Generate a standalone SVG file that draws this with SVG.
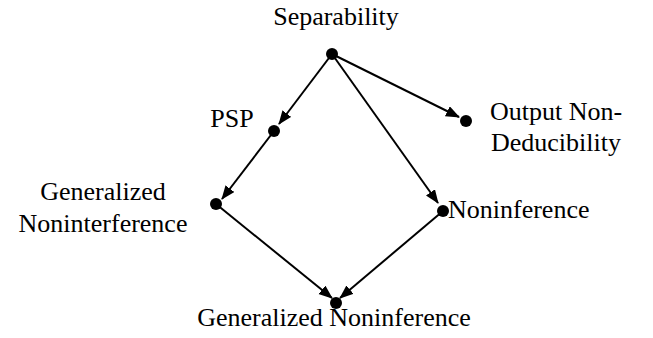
<svg xmlns="http://www.w3.org/2000/svg" width="653" height="338" viewBox="0 0 653 338">
<style>
text{font-family:"Liberation Serif","Times New Roman",serif;font-size:26px;fill:#000}
.dot{fill:#000}
.edge{stroke:#000;stroke-width:2;fill:none;marker-end:url(#ah)}
</style>
<defs>
<marker id="ah" markerUnits="userSpaceOnUse" markerWidth="15" markerHeight="12" refX="13" refY="5.5" orient="auto">
<path d="M0,0 L14,5.5 L0,11 z" fill="#000"/>
</marker>
</defs>
<rect width="653" height="338" fill="#fff"/>
<g id="connectors">
<line class="edge" x1="332" y1="54" x2="279" y2="124"/>
<line class="edge" x1="274" y1="131" x2="222" y2="199"/>
<line class="edge" x1="332" y1="54" x2="459" y2="117"/>
<line class="edge" x1="332" y1="54" x2="438" y2="203"/>
<line class="edge" x1="216" y1="204" x2="332" y2="298"/>
<line class="edge" x1="443" y1="211" x2="340" y2="298"/>
</g>
<g id="separability">
<circle class="dot" cx="332" cy="54" r="6"/>
<text x="336" y="25" text-anchor="middle">Separability</text>
</g>
<g id="psp">
<circle class="dot" cx="274" cy="131" r="6"/>
<text x="232" y="127" text-anchor="middle">PSP</text>
</g>
<g id="output-non-deducibility">
<circle class="dot" cx="466" cy="121" r="6"/>
<text x="556" y="120" text-anchor="middle">Output Non-</text>
<text x="556" y="151" text-anchor="middle">Deducibility</text>
</g>
<g id="generalized-noninterference">
<circle class="dot" cx="216" cy="204" r="6"/>
<text x="103" y="200" text-anchor="middle">Generalized</text>
<text x="103" y="232" text-anchor="middle">Noninterference</text>
</g>
<g id="noninference">
<circle class="dot" cx="443" cy="211" r="6"/>
<text x="448" y="218">Noninference</text>
</g>
<g id="generalized-noninference">
<circle class="dot" cx="336" cy="303" r="6"/>
<text x="334" y="326" text-anchor="middle">Generalized Noninference</text>
</g>
</svg>
